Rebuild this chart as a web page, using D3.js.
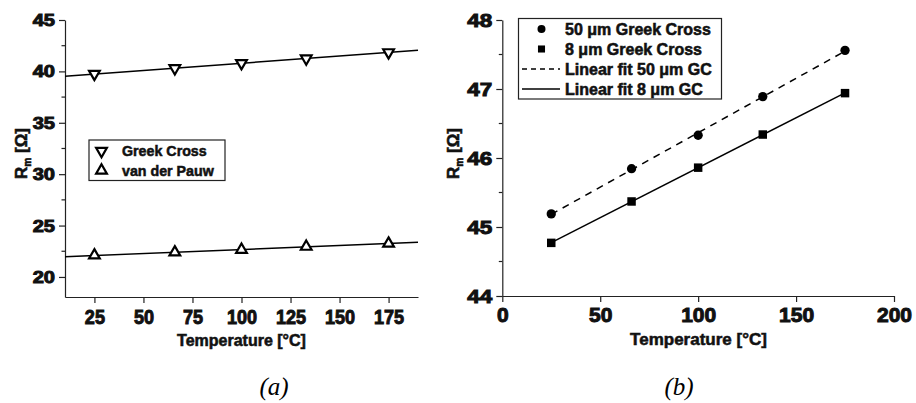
<!DOCTYPE html>
<html>
<head>
<meta charset="utf-8">
<script src="https://cdn.jsdelivr.net/npm/d3@7"></script>
<style>
  body { margin: 0; background: #fff; }
  svg { display: block; font-family: "Liberation Sans", Arial, sans-serif; }
  .heavy { stroke: #111; stroke-width: 0.55px; paint-order: stroke; }
  .heavier { stroke: #111; stroke-width: 1px; paint-order: stroke; }
</style>
</head>
<body>
<div id="chart"></div>
<script>
// Panel (a): sheet resistance vs temperature
const tempA = [25, 66, 100, 133, 175];
const greekCross = [39.75, 40.3, 40.8, 41.25, 41.85];
const vanDerPauw = [22.1, 22.4, 22.65, 22.95, 23.25];
const xTicksA = [25, 50, 75, 100, 125, 150, 175];
const yTicksA = [20, 25, 30, 35, 40, 45];

// Panel (b): two Greek cross sizes
const tempB = [25, 66, 100, 133, 175];
const gc50 = [45.19, 45.845, 46.33, 46.89, 47.56];
const gc8 = [44.77, 45.37, 45.86, 46.34, 46.94];
const xTicksB = [0, 50, 100, 150, 200];
const yTicksB = [44, 45, 46, 47, 48];

const svg = d3.select('#chart')
    .append('svg')
    .attr('width', 916)
    .attr('height', 403);

// least squares fit, returns f(x)
function linFit(xs, ys) {
    const mx = d3.mean(xs), my = d3.mean(ys);
    const sxy = d3.sum(xs, (x, i) => (x - mx) * (ys[i] - my));
    const sxx = d3.sum(xs, x => (x - mx) * (x - mx));
    const b = sxy / sxx;
    return x => my + b * (x - mx);
}

// squash / stretch tick text horizontally like the scanned figure
function styleTicks(g, size, sx, side) {
    g.attr('font-family', '"Liberation Sans", Arial, sans-serif')
        .attr('font-size', size);
    g.selectAll('.domain').attr('stroke', '#222').attr('stroke-width', 1.2);
    g.selectAll('.tick line').attr('stroke', '#222').attr('stroke-width', 1.2);
    g.selectAll('.tick text').each(function () {
        const t = d3.select(this);
        t.attr('fill', '#111').attr('class', 'heavier')
            .style('font-weight', 'bold').style('font-size', size + 'px');
        if (side === 'left') {
            const x = +t.attr('x');
            t.attr('x', 0).attr('transform', `translate(${x},0) scale(${sx},1)`);
        } else {
            t.attr('transform', `scale(${sx},1)`);
        }
    });
}

function minorTicks(g, y, values, x0) {
    g.selectAll('.minor')
        .data(values)
        .join('line')
        .attr('class', 'minor')
        .attr('x1', x0 - 3.5).attr('x2', x0)
        .attr('y1', d => y(d)).attr('y2', d => y(d))
        .attr('stroke', '#222').attr('stroke-width', 1.2);
}

function yTitle(x, y, size) {
    const t = svg.append('text')
        .attr('class', 'heavy')
        .attr('transform', `translate(${x},${y}) rotate(-90)`)
        .attr('text-anchor', 'middle')
        .style('font-size', size + 'px')
        .style('font-weight', 'bold')
        .attr('fill', '#111');
    t.append('tspan').text('R');
    t.append('tspan').attr('dy', 4).style('font-size', (size * 0.6) + 'px').text('m');
    t.append('tspan').attr('dy', -4).text(' [Ω]');
}

// ---------- panel (a) ----------
const xA = d3.scaleLinear().domain([10, 190]).range([65, 418]);
const yA = d3.scaleLinear().domain([18.05, 45]).range([297, 20]);

const gA = svg.append('g');

const axA = gA.append('g')
    .attr('transform', 'translate(0,297)')
    .call(d3.axisBottom(xA).tickValues(xTicksA).tickFormat(d3.format('d'))
        .tickSize(6).tickSizeOuter(0).tickPadding(6));
styleTicks(axA, 21, 0.86, 'bottom');

const ayA = gA.append('g')
    .attr('transform', 'translate(65,0)')
    .call(d3.axisLeft(yA).tickValues(yTicksA).tickFormat(d3.format('d'))
        .tickSize(6).tickSizeOuter(0).tickPadding(4));
styleTicks(ayA, 17, 1.18, 'left');
minorTicks(gA, yA, [22.5, 27.5, 32.5, 37.5, 42.5], 65);

const fitGC = linFit(tempA, greekCross);
const fitVP = linFit(tempA, vanDerPauw);
const lineA = d3.line().x(d => xA(d[0])).y(d => yA(d[1]));
gA.append('path')
    .datum(xA.domain().map(x => [x, fitGC(x)]))
    .attr('d', lineA).attr('fill', 'none').attr('stroke', '#000').attr('stroke-width', 1.5);
gA.append('path')
    .datum(xA.domain().map(x => [x, fitVP(x)]))
    .attr('d', lineA).attr('fill', 'none').attr('stroke', '#000').attr('stroke-width', 1.5);

const tri = d3.symbol().type(d3.symbolTriangle).size(50);
gA.selectAll('.gc')
    .data(tempA)
    .join('path')
    .attr('d', tri)
    .attr('transform', (d, i) => `translate(${xA(d)},${yA(greekCross[i])}) rotate(180)`)
    .attr('fill', '#fff').attr('stroke', '#000').attr('stroke-width', 2.2);
gA.selectAll('.vp')
    .data(tempA)
    .join('path')
    .attr('d', tri)
    .attr('transform', (d, i) => `translate(${xA(d)},${yA(vanDerPauw[i])})`)
    .attr('fill', '#fff').attr('stroke', '#000').attr('stroke-width', 2.2);

// legend (a)
const legA = gA.append('g');
legA.append('rect')
    .attr('x', 89).attr('y', 140).attr('width', 136).attr('height', 40.5)
    .attr('fill', '#fff').attr('stroke', '#222').attr('stroke-width', 1.2);
const legAItems = [['Greek Cross', 180], ['van der Pauw', 0]];
legAItems.forEach(([label, rot], i) => {
    const cy = 151 + i * 19.5;
    legA.append('path').attr('d', tri)
        .attr('transform', `translate(101.5,${cy}) rotate(${rot})`)
        .attr('fill', '#fff').attr('stroke', '#000').attr('stroke-width', 2.2);
    legA.append('text')
        .attr('class', 'heavy')
        .attr('transform', `translate(122,${cy + 5.3}) scale(0.92,1)`)
        .style('font-size', '15.5px').style('font-weight', 'bold').attr('fill', '#111')
        .text(label);
});

svg.append('text')
    .attr('class', 'heavy')
    .attr('x', 241.5).attr('y', 346)
    .attr('text-anchor', 'middle')
    .style('font-size', '16px').style('font-weight', 'bold').attr('fill', '#111')
    .text('Temperature [°C]');
yTitle(27, 153.5, 17);

svg.append('text')
    .attr('x', 274).attr('y', 395)
    .attr('text-anchor', 'middle')
    .style('font-family', '"Liberation Serif", "Times New Roman", serif')
    .style('font-style', 'italic')
    .style('font-size', '25px')
    .text('(a)');

// ---------- panel (b) ----------
const xB = d3.scaleLinear().domain([0, 200]).range([502.3, 894]);
const yB = d3.scaleLinear().domain([44, 48]).range([296, 20]);

const gB = svg.append('g');

const axB = gB.append('g')
    .attr('transform', 'translate(0,296)')
    .call(d3.axisBottom(xB).tickValues(xTicksB).tickFormat(d3.format('d'))
        .tickSize(6).tickSizeOuter(0).tickPadding(5));
styleTicks(axB, 21, 1.0, 'bottom');

const ayB = gB.append('g')
    .attr('transform', 'translate(502.3,0)')
    .call(d3.axisLeft(yB).tickValues(yTicksB).tickFormat(d3.format('d'))
        .tickSize(6).tickSizeOuter(0).tickPadding(4));
styleTicks(ayB, 19, 1.18, 'left');
minorTicks(gB, yB, [44.5, 45.5, 46.5, 47.5], 502.3);

const fit50 = linFit(tempB, gc50);
const fit8 = linFit(tempB, gc8);
const lineB = d3.line().x(d => xB(d[0])).y(d => yB(d[1]));
const span = d3.extent(tempB);
gB.append('path')
    .datum(span.map(x => [x, fit50(x)]))
    .attr('d', lineB).attr('fill', 'none').attr('stroke', '#000')
    .attr('stroke-width', 1.5).attr('stroke-dasharray', '7,6');
gB.append('path')
    .datum(span.map(x => [x, fit8(x)]))
    .attr('d', lineB).attr('fill', 'none').attr('stroke', '#000').attr('stroke-width', 1.5);

const circ = d3.symbol().type(d3.symbolCircle).size(68);
const sq = d3.symbol().type(d3.symbolSquare).size(72);
gB.selectAll('.c50')
    .data(tempB)
    .join('path')
    .attr('d', circ)
    .attr('transform', (d, i) => `translate(${xB(d)},${yB(gc50[i])})`)
    .attr('fill', '#000');
gB.selectAll('.s8')
    .data(tempB)
    .join('path')
    .attr('d', sq)
    .attr('transform', (d, i) => `translate(${xB(d)},${yB(gc8[i])})`)
    .attr('fill', '#000');

// legend (b)
const legB = gB.append('g');
legB.append('rect')
    .attr('x', 518.5).attr('y', 18.5).attr('width', 203).attr('height', 80.5)
    .attr('fill', '#fff').attr('stroke', '#222').attr('stroke-width', 1.2);
const legBItems = ['50 μm Greek Cross', '8 μm Greek Cross', 'Linear fit 50 μm GC', 'Linear fit 8 μm GC'];
legBItems.forEach((label, i) => {
    const cy = 29 + i * 20;
    if (i === 0) {
        legB.append('path').attr('d', d3.symbol().type(d3.symbolCircle).size(50))
            .attr('transform', `translate(541.5,${cy})`).attr('fill', '#000');
    } else if (i === 1) {
        legB.append('path').attr('d', d3.symbol().type(d3.symbolSquare).size(50))
            .attr('transform', `translate(541.5,${cy})`).attr('fill', '#000');
    } else {
        legB.append('line')
            .attr('x1', 522).attr('x2', 560).attr('y1', cy).attr('y2', cy)
            .attr('stroke', '#000').attr('stroke-width', 1.3)
            .attr('stroke-dasharray', i === 2 ? '5,4' : null);
    }
    legB.append('text')
        .attr('class', 'heavy')
        .attr('x', 565).attr('y', cy + 5.5)
        .style('font-size', '16px').style('font-weight', 'bold').attr('fill', '#111')
        .text(label);
});

svg.append('text')
    .attr('class', 'heavy')
    .attr('x', 698.5).attr('y', 345)
    .attr('text-anchor', 'middle')
    .style('font-size', '17px').style('font-weight', 'bold').attr('fill', '#111')
    .text('Temperature [°C]');
yTitle(459, 153.5, 17);

svg.append('text')
    .attr('x', 679).attr('y', 395)
    .attr('text-anchor', 'middle')
    .style('font-family', '"Liberation Serif", "Times New Roman", serif')
    .style('font-style', 'italic')
    .style('font-size', '25px')
    .text('(b)');
</script>
</body>
</html>
